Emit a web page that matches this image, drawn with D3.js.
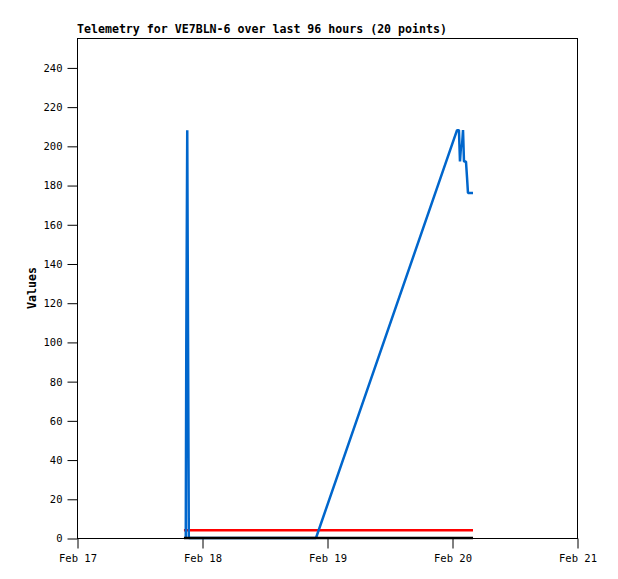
<!DOCTYPE html>
<html>
<head>
<meta charset="utf-8">
<script src="https://cdn.jsdelivr.net/npm/d3@7"></script>
<style>
  html, body { margin: 0; padding: 0; background: #fff; }
  svg { display: block; }
</style>
</head>
<body>
<svg id="chart" width="618" height="579"></svg>
<script>
// ---- data ----
const titleText = "Telemetry for VE7BLN-6 over last 96 hours (20 points)";
const yLabel = "Values";
const times = [
  "2024-02-17T20:32Z", "2024-02-17T20:53Z", "2024-02-17T20:59Z", "2024-02-17T21:10Z",
  "2024-02-17T21:19Z", "2024-02-17T21:28Z", "2024-02-18T21:53Z", "2024-02-20T00:58Z",
  "2024-02-20T01:20Z", "2024-02-20T01:32Z", "2024-02-20T01:44Z", "2024-02-20T01:55Z",
  "2024-02-20T02:07Z", "2024-02-20T02:18Z", "2024-02-20T02:41Z", "2024-02-20T02:53Z",
  "2024-02-20T03:04Z", "2024-02-20T03:28Z", "2024-02-20T03:45Z", "2024-02-20T04:02Z"
];
const blueValues  = [null, 0, 97, 208, 104, 0, 0, 208, 208, 192, 200, 200, 208, 192, 192, 184, 176, 176, 176, 176];
const redValues   = [4, 4, 4, 4, 4, 4, 4, 4, 4, 4, 4, 4, 4, 4, 4, 4, 4, 4, 4, 4];
const blackValues = [0, 0, 0, 0, 0, 0, 0, 0, 0, 0, 0, 0, 0, 0, 0, 0, 0, 0, 0, 0];
const xDomain = ["2024-02-17T00:00Z", "2024-02-21T00:00Z"];
const xTicks = ["2024-02-17T00:00Z", "2024-02-18T00:00Z", "2024-02-19T00:00Z", "2024-02-20T00:00Z", "2024-02-21T00:00Z"];
const yMax = 255;
const yTicks = [0, 20, 40, 60, 80, 100, 120, 140, 160, 180, 200, 220, 240];

// ---- layout ----
const svg = d3.select("#chart");
const L = 77, R = 577, T = 38, B = 538;

const x = d3.scaleUtc().domain(xDomain.map(d => new Date(d))).range([L, R]);
const y = d3.scaleLinear().domain([0, yMax]).range([B, T]);

const tickFont = "'DejaVu Sans Mono', 'Liberation Mono', monospace";

// frame
svg.append("rect")
  .attr("x", L + 0.5).attr("y", T + 0.5)
  .attr("width", R - L).attr("height", B - T)
  .attr("fill", "none").attr("stroke", "#000").attr("stroke-width", 1);

// y axis
const yAxis = d3.axisLeft(y).tickValues(yTicks).tickSize(10).tickPadding(5).tickSizeOuter(0);
const gy = svg.append("g").attr("transform", `translate(${L + 0.5},0.5)`).call(yAxis);
gy.select(".domain").remove();
gy.selectAll("text").attr("font-family", tickFont).attr("font-size", "10.5px").attr("fill", "#000");
gy.selectAll("line").attr("stroke", "#000");

// x axis
const xAxis = d3.axisBottom(x).tickValues(xTicks.map(d => new Date(d)))
  .tickFormat(d3.utcFormat("%b %d")).tickSize(10).tickPadding(6).tickSizeOuter(0);
const gx = svg.append("g").attr("transform", `translate(0.5,${B + 0.5})`).call(xAxis);
gx.select(".domain").remove();
gx.selectAll("text").attr("font-family", tickFont).attr("font-size", "10.5px").attr("fill", "#000");
gx.selectAll("line").attr("stroke", "#000");

// series
const pts = (vals) => times.map((t, i) => [new Date(t), vals[i]]);
const line = d3.line().defined(d => d[1] != null).x(d => x(d[0])).y(d => y(d[1]));

svg.append("path").datum(pts(redValues))
  .attr("d", line).attr("fill", "none").attr("stroke", "#ff0000").attr("stroke-width", 2.5);
svg.append("path").datum(pts(blueValues))
  .attr("d", line).attr("fill", "none").attr("stroke", "#0066cc").attr("stroke-width", 2.5)
  .attr("stroke-linejoin", "bevel");
svg.append("path").datum(pts(blackValues))
  .attr("d", line).attr("fill", "none").attr("stroke", "#000").attr("stroke-width", 2.5);

// title
svg.append("text")
  .attr("x", L).attr("y", T - 5)
  .attr("font-family", tickFont).attr("font-weight", "bold").attr("font-size", "11.6px")
  .attr("fill", "#000")
  .text(titleText);

// y label
svg.append("text")
  .attr("transform", `translate(36,${(T + B) / 2}) rotate(-90)`)
  .attr("text-anchor", "middle")
  .attr("font-family", tickFont).attr("font-weight", "bold").attr("font-size", "11.6px")
  .attr("fill", "#000")
  .text(yLabel);
</script>
</body>
</html>
